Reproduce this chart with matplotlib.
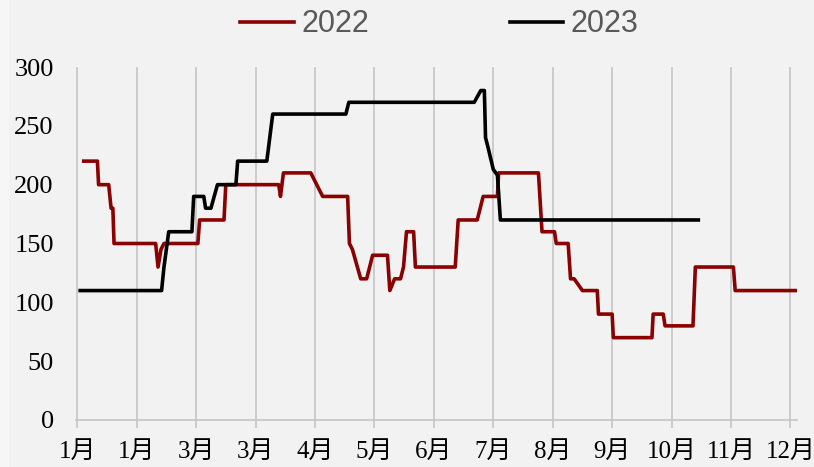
import numpy as np
import matplotlib.pyplot as plt
from matplotlib.patches import Rectangle

# x positions are in tick units (0 = first "1月" gridline)
x_2022 = [0.11, 0.34, 0.36, 0.53, 0.57, 0.60, 0.62, 1.32, 1.36, 1.41, 1.46, 2.03, 2.06,
          2.47, 2.50, 3.39, 3.42, 3.47, 3.93, 4.13, 4.55, 4.58, 4.63, 4.77, 4.87, 4.97,
          5.22, 5.26, 5.34, 5.44, 5.49, 5.54, 5.66, 5.69, 6.36, 6.41, 6.73, 6.83, 7.07,
          7.09, 7.76, 7.82, 8.03, 8.06, 8.26, 8.30, 8.36, 8.50, 8.75, 8.77, 9.00, 9.02,
          9.67, 9.69, 9.86, 9.89, 10.36, 10.40, 11.04, 11.07, 12.08]
y_2022 = [220, 220, 200, 200, 180, 180, 150, 150, 130, 145, 150, 150, 170,
          170, 200, 200, 190, 210, 210, 190, 190, 150, 145, 120, 120, 140,
          140, 110, 120, 120, 130, 160, 160, 130, 130, 170, 170, 190, 190,
          210, 210, 160, 160, 150, 150, 120, 120, 110, 110, 90, 90, 70,
          70, 90, 90, 80, 80, 130, 130, 110, 110]

x_2023 = [0.05, 1.42, 1.46, 1.54, 1.93, 1.96, 2.13, 2.16, 2.25, 2.36, 2.67, 2.70, 3.19,
          3.29, 4.52, 4.57, 6.68, 6.79, 6.85, 6.87, 6.92, 7.00, 7.07, 7.12, 10.45]
y_2023 = [110, 110, 130, 160, 160, 190, 190, 180, 180, 200, 200, 220, 220,
          260, 260, 270, 270, 280, 280, 240, 230, 213, 208, 170, 170]

tick_labels = ['1月', '1月', '3月', '3月', '4月', '5月', '6月', '7月', '8月', '9月',
               '10月', '11月', '12月']

bg = '#f2f2f2'
grid_c = '#c8c8c8'

fig = plt.figure(figsize=(8.14, 4.67), dpi=100, facecolor=bg)
# slightly lighter strip on the left edge
fig.patches.append(Rectangle((0, 0), 8/814, 1, transform=fig.transFigure,
                             color='#f6f6f6', zorder=-1))

ax = fig.add_axes([76/814, 47/467, (797-76)/814, (420-67)/467])
ax.set_facecolor(bg)

l1, = ax.plot(x_2022, y_2022, color='#8b0000', lw=2.6, solid_joinstyle='round')
l2, = ax.plot(x_2023, y_2023, color='black', lw=2.6, solid_joinstyle='round')

ax.set_xlim(-0.02, 12.11)
ax.set_ylim(0, 300)
ax.set_xticks(np.arange(len(tick_labels)))
ax.set_xticklabels(tick_labels, family=['Liberation Serif', 'Noto Sans CJK SC'], fontsize=18)
ax.set_yticks(np.arange(0, 301, 50))
for lab in ax.get_yticklabels():
    lab.set_family('Liberation Serif')
    lab.set_fontsize(19)

ax.grid(axis='x', color=grid_c, lw=1.3)
ax.set_axisbelow(True)
for s in ['top', 'right', 'left']:
    ax.spines[s].set_visible(False)
ax.spines['bottom'].set_color(grid_c)
ax.spines['bottom'].set_linewidth(1.3)
ax.tick_params(axis='x', colors=grid_c, length=6, width=1.3, pad=9, labelcolor='black')
ax.tick_params(axis='y', length=0, pad=16, labelcolor='black')

fig.legend([l1, l2], ['2022', '2023'], loc='center', bbox_to_anchor=(0.54, 0.948),
           ncol=2, frameon=False, handlelength=1.75, handletextpad=0.25,
           columnspacing=4.6, prop={'family': 'Liberation Sans', 'size': 22},
           labelcolor='#595959')

plt.savefig('out.png', dpi=100, facecolor=bg)
